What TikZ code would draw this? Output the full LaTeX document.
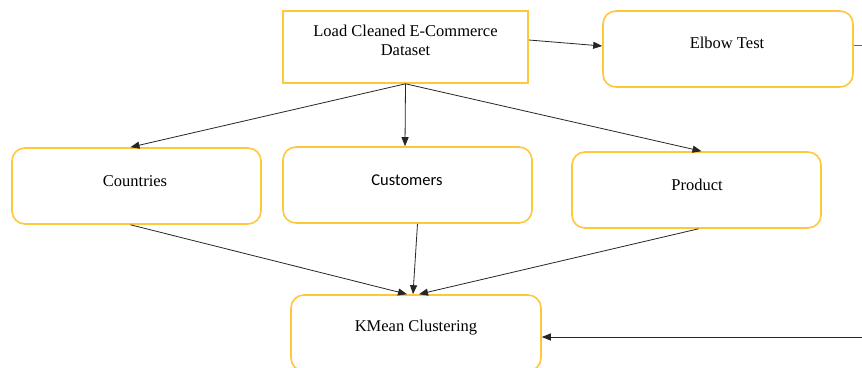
\documentclass[tikz,border=0pt]{standalone}
\usepackage{fontspec}
\setmainfont{Liberation Serif}
\newfontfamily\calfont{Carlito}
\usetikzlibrary{arrows.meta}
\definecolor{boxgold}{RGB}{255,200,60}
\tikzset{
  box/.style={draw=boxgold, line width=1.6pt, minimum width=#1, minimum height=76pt, inner sep=0pt},
  box/.default=249pt,
  rbox/.style={box=#1, rounded corners=13pt},
  rbox/.default=249pt,
  txt/.style={font=\fontsize{16.5}{19}\selectfont, align=center, inner sep=0pt},
  conn/.style={draw=black!85, line width=0.8pt, -{Triangle[length=9pt,width=7pt]}},
  plain/.style={draw=black!60, line width=1pt}
}
\begin{document}
\begin{tikzpicture}[x=1pt,y=-1pt]
\useasboundingbox (0,0) rectangle (862,367);
\fill[white] (0,0) rectangle (862,367);
\begin{scope}
\clip (0,0) rectangle (862,367);
% boxes
\node[box=245pt, minimum height=72pt] (load) at (405.5,47) {};
\node[rbox=250pt] (elbow) at (728,49) {};
\node[rbox] (cty) at (136.5,186) {};
\node[rbox] (cus) at (407.5,185) {};
\node[rbox] (prod) at (696.5,190) {};
\node[rbox=250pt] (km) at (416,333) {};
% texts
\node[txt] (tload) at (405.5,40) {Load Cleaned E-Commerce\\Dataset};
\node[txt] (telbow) at (727,43) {Elbow Test};
\node[txt] (tcty) at (135,181) {Countries};
\node[txt, font=\calfont\fontsize{16.5}{19}\selectfont] (tcus) at (407,180) {Customers};
\node[txt] (tprod) at (697,185) {Product};
\node[txt] (tkm) at (416,328) {KMean Clustering};
% connectors
\draw[conn] ([yshift=7pt]load.east) -- ([yshift=3pt]elbow.west);
\draw[conn] (load.south) -- ([xshift=-6pt]cty.north);
\draw[conn] (load.south) -- ([xshift=-2.5pt]cus.north);
\draw[conn] (load.south) -- ([xshift=5pt]prod.north);
\draw[conn] ([xshift=-6pt]cty.south) -- ([xshift=-9pt]km.north);
\draw[conn] ([xshift=10pt]cus.south) -- ([xshift=-3pt]km.north);
\draw[conn] ([xshift=2pt]prod.south) -- ([xshift=3pt]km.north);
\coordinate (eout) at (862,45);
\coordinate (kin) at (862,337);
\draw[plain] ([yshift=4pt]elbow.east) -- (eout);
\draw[conn, line width=1pt] (kin) -- ([yshift=-4pt]km.east);
\end{scope}
\end{tikzpicture}
\end{document}
